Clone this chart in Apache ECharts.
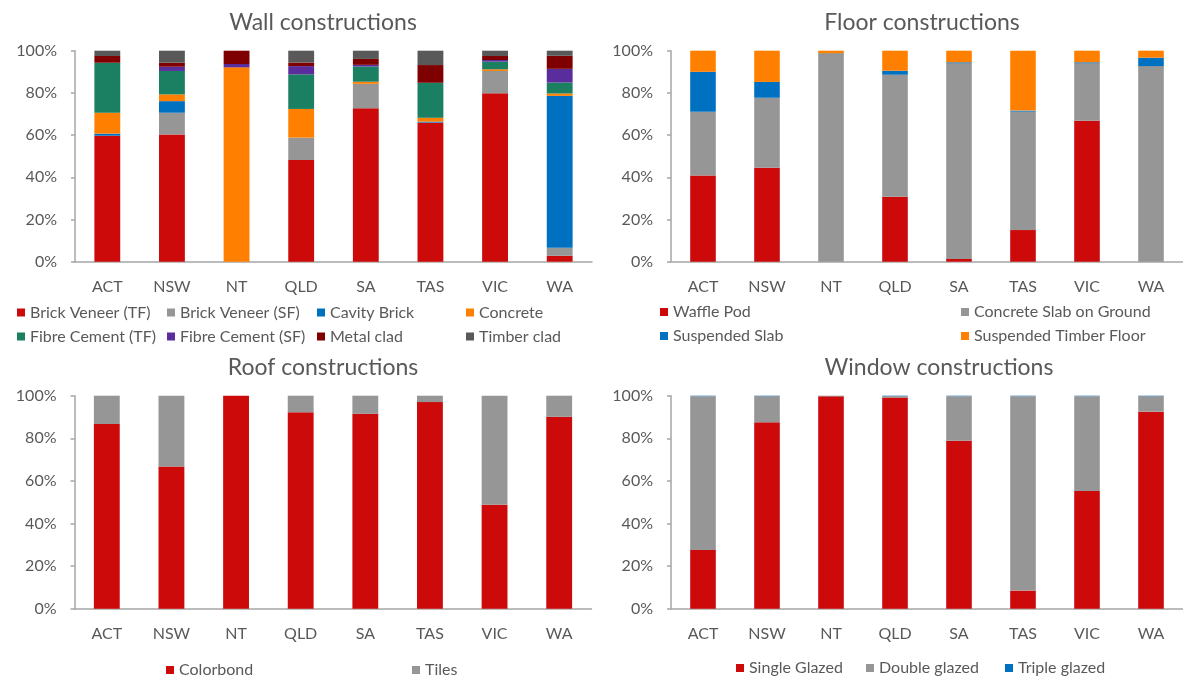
<!DOCTYPE html>
<html><head><meta charset="utf-8">
<script src="https://cdn.jsdelivr.net/npm/echarts@6/dist/echarts.min.js"></script>
<style>html,body{margin:0;padding:0;background:#fff}#c{width:1183px;height:676px}</style>
</head><body><div id="c"></div>
<script>
const categories = ['ACT','NSW','NT','QLD','SA','TAS','VIC','WA'];

// Wall constructions (%)
const brickVeneerTF  = [59.7, 60.3, 0,    48.2, 72.7, 65.9, 79.8, 2.8];
const brickVeneerSF  = [0,    10.3, 0,    10.6, 11.6, 0,    10.6, 3.8];
const cavityBrick    = [1.0,  5.5,  0,    0,    0,    0.5,  0,    72.0];
const concrete       = [9.9,  3.2,  92.1, 13.6, 1.0,  1.8,  0.8,  1.1];
const fibreCementTF  = [23.7, 11.1, 0,    16.4, 7.2,  16.6, 3.6,  5.2];
const fibreCementSF  = [0,    2.0,  1.6,  3.9,  0.8,  0,    0.8,  6.5];
const metalClad      = [3.2,  1.9,  6.3,  1.7,  2.8,  8.4,  1.9,  6.2];
const timberClad     = [2.5,  5.7,  0,    5.6,  3.9,  6.8,  2.5,  2.4];

// Floor constructions (%)
const wafflePod       = [40.9, 44.5, 0,    30.8, 1.3,  15.0, 66.8, 0];
const concreteSlab    = [30.2, 33.2, 98.4, 57.8, 92.7, 56.1, 27.2, 92.7];
const suspendedSlab   = [18.9, 7.5,  0.3,  1.9,  0.5,  0.5,  0.5,  4.0];
const suspendedTimber = [10.0, 14.8, 1.3,  9.5,  5.5,  28.4, 5.5,  3.3];

// Roof constructions (%)
const colorbond = [86.7, 66.8, 100, 92.2, 91.5, 97.0, 48.8, 90.1];
const tiles     = [13.3, 33.2, 0,   7.8,  8.5,  3.0,  51.2, 9.9];

// Window constructions (%)
const singleGlazed = [27.6, 87.5, 99.7, 99.1, 78.8, 8.5,  55.2, 92.5];
const doubleGlazed = [72.2, 12.3, 0.3,  0.7,  21.0, 91.3, 44.6, 7.3];
const tripleGlazed = [0.2,  0.2,  0,    0.2,  0.2,  0.2,  0.2,  0.2];

const C = {
  red:'#cc0a0a', gray:'#969696', blue:'#0070c0', orange:'#ff8000',
  green:'#1b7f62', purple:'#5a2d9c', maroon:'#7f0000', dark:'#595959'
};
const FONT = 'Lato';
const TXT = '#595959';

const grids = [
  {left:75, top:50.7, width:517, height:211},
  {left:671, top:50.7, width:517, height:211},
  {left:74.5, top:395.7, width:517, height:213},
  {left:671, top:395.7, width:517, height:213}
];

const xAxes = grids.map((g,i)=>({
  type:'category', gridIndex:i, data:categories,
  axisLine:{lineStyle:{color:'#a6a6a6', width:1.5}},
  axisTick:{show:false},
  axisLabel:{color:TXT, fontFamily:FONT, fontSize:16, margin:17, interval:0}
}));
const yAxes = grids.map((g,i)=>({
  type:'value', gridIndex:i, min:0, max:100, interval:20,
  axisLine:{show:true, lineStyle:{color:'#a6a6a6', width:1.5}},
  axisTick:{show:true, length:4, lineStyle:{color:'#a6a6a6', width:1.5}},
  splitLine:{show:false},
  axisLabel:{color:TXT, fontFamily:FONT, fontSize:16, margin:18, formatter:'{value}%'}
}));

function bar(name, data, color, idx){
  return {name, type:'bar', stack:'s'+idx, xAxisIndex:idx, yAxisIndex:idx,
    data, barWidth:'40%', itemStyle:{color}, emphasis:{disabled:true}};
}

const series = [
  bar('Brick Veneer (TF)', brickVeneerTF, C.red, 0),
  bar('Brick Veneer (SF)', brickVeneerSF, C.gray, 0),
  bar('Cavity Brick', cavityBrick, C.blue, 0),
  bar('Concrete', concrete, C.orange, 0),
  bar('Fibre Cement (TF)', fibreCementTF, C.green, 0),
  bar('Fibre Cement (SF)', fibreCementSF, C.purple, 0),
  bar('Metal clad', metalClad, C.maroon, 0),
  bar('Timber clad', timberClad, C.dark, 0),
  bar('Waffle Pod', wafflePod, C.red, 1),
  bar('Concrete Slab on Ground', concreteSlab, C.gray, 1),
  bar('Suspended Slab', suspendedSlab, C.blue, 1),
  bar('Suspended Timber Floor', suspendedTimber, C.orange, 1),
  bar('Colorbond', colorbond, C.red, 2),
  bar('Tiles', tiles, C.gray, 2),
  bar('Single Glazed', singleGlazed, C.red, 3),
  bar('Double glazed', doubleGlazed, C.gray, 3),
  bar('Triple glazed', tripleGlazed, C.blue, 3)
];

function lg(names, left, top){
  return {data:names, left, top, orient:'vertical', itemGap:8,
    icon:'rect', itemWidth:8, itemHeight:8, itemTextGap:5, selectedMode:false,
    padding:0, textStyle:{color:TXT, fontFamily:FONT, fontSize:16}};
}

const legends = [
  lg(['Brick Veneer (TF)','Fibre Cement (TF)'], 17, 304.5),
  lg(['Brick Veneer (SF)','Fibre Cement (SF)'], 167, 304.5),
  lg(['Cavity Brick','Metal clad'], 317, 304.5),
  lg(['Concrete','Timber clad'], 466, 304.5),
  lg(['Waffle Pod','Suspended Slab'], 660, 304),
  lg(['Concrete Slab on Ground','Suspended Timber Floor'], 961, 304),
  lg(['Colorbond'], 166, 662),
  lg(['Tiles'], 412, 662),
  lg(['Single Glazed'], 736, 660),
  lg(['Double glazed'], 866, 660),
  lg(['Triple glazed'], 1005, 660)
];

function title(text, x, y){
  return {text, left:x, top:y, textAlign:'center', padding:0,
    textStyle:{color:TXT, fontFamily:FONT, fontSize:23, fontWeight:'normal'}};
}

const chart = echarts.init(document.getElementById('c'), null, {renderer:'canvas'});
chart.setOption({
  animation:false,
  backgroundColor:'#fff',
  title:[
    title('Wall constructions', 323, 11),
    title('Floor constructions', 922, 11),
    title('Roof constructions', 323, 356),
    title('Window constructions', 939, 356)
  ],
  grid:grids,
  xAxis:xAxes,
  yAxis:yAxes,
  legend:legends,
  series
});
</script>
</body></html>
